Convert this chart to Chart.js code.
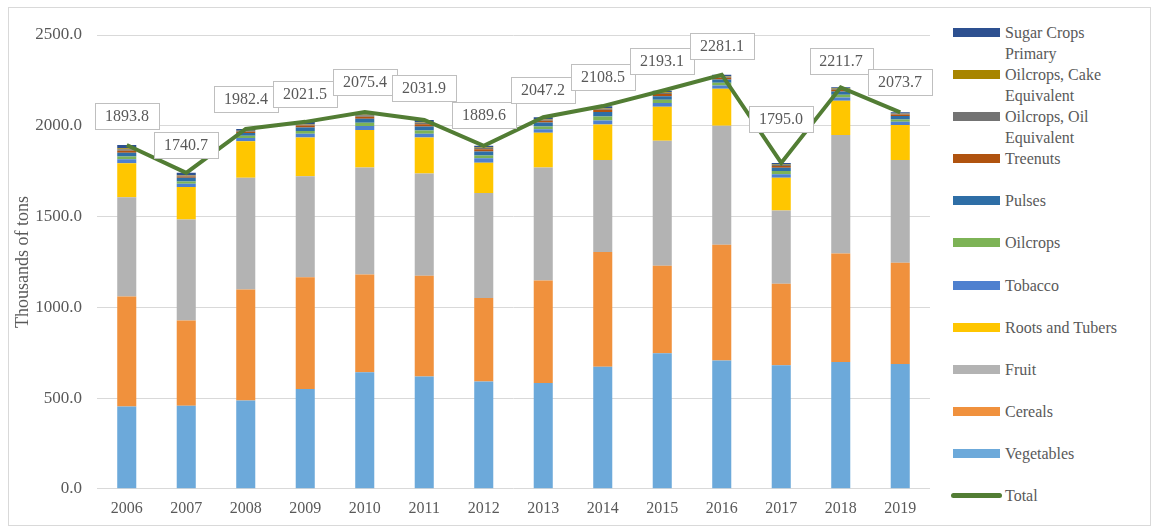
<!DOCTYPE html>
<html><head><meta charset="utf-8">
<script src="https://cdn.jsdelivr.net/npm/chart.js@4"></script>
<style>
body{margin:0;background:#fff;width:1155px;height:530px;overflow:hidden;position:relative;}
#frame{position:absolute;left:8px;top:7px;width:1143px;height:519px;border:1px solid #d9d9d9;box-sizing:border-box;}
#wrap{position:absolute;left:0;top:0;width:945px;height:530px;}
#legend{position:absolute;left:953px;top:22px;font-family:"Liberation Serif",serif;font-size:16px;color:#595959;}
.item{position:relative;height:42.1px;width:200px;}
.sw{position:absolute;left:0;top:6px;width:47px;height:9px;}
.tx{position:absolute;left:52px;top:0;line-height:21px;white-space:pre;}
</style>
</head><body>
<div id="frame"></div>
<div id="wrap"><canvas id="c"></canvas></div>
<div id="legend"></div>
<script>
const years = ['2006','2007','2008','2009','2010','2011','2012','2013','2014','2015','2016','2017','2018','2019'];
const vegetables = [453,458,486,550,642,618,591,583,673,747,707,681,699,688];
const cereals    = [607,469,612,615,539,556,460,565,631,482,638,449,597,558];
const fruit      = [546,556,615,557,589,563,579,622,507,688,655,403,653,565];
const roots      = [188,180,202,214,206,199,166,191,196,188,204,180,189,193];
const tobacco    = [22,18,18,20,22,20,25,20,22,20,18,20,18,18];
const oilcrops   = [15,12,12,15,18,18,15,15,22,18,15,18,15,12];
const pulses     = [20,20,15,20,22,22,22,22,25,20,18,18,18,20];
const treenuts   = [12,8,7,10,12,12,12,10,12,12,10,10,9,8];
const oilEquiv   = [8,5,4,6,8,8,7,6,6,6,5,5,5,4];
const cakeEquiv  = [5,3,2,3,4,4,3,3,3,3,3,3,2,2];
const sugarCrops = [18,12,9,11,13,12,10,10,11,9,8,8,7,6];
const total      = [1893.8,1740.7,1982.4,2021.5,2075.4,2031.9,1889.6,2047.2,2108.5,2193.1,2281.1,1795.0,2211.7,2073.7];
const yTicks = [0,500,1000,1500,2000,2500];

const barSeries = [
  {label:'Vegetables', data:vegetables, color:'#6CA9DA', legend:'Vegetables'},
  {label:'Cereals', data:cereals, color:'#F0913D', legend:'Cereals'},
  {label:'Fruit', data:fruit, color:'#B3B3B3', legend:'Fruit'},
  {label:'Roots and Tubers', data:roots, color:'#FFC600', legend:'Roots and Tubers'},
  {label:'Tobacco', data:tobacco, color:'#4E80CF', legend:'Tobacco'},
  {label:'Oilcrops', data:oilcrops, color:'#7DB356', legend:'Oilcrops'},
  {label:'Pulses', data:pulses, color:'#2E6EA6', legend:'Pulses'},
  {label:'Treenuts', data:treenuts, color:'#B0530F', legend:'Treenuts'},
  {label:'Oilcrops, Oil Equivalent', data:oilEquiv, color:'#737373', legend:'Oilcrops, Oil\nEquivalent'},
  {label:'Oilcrops, Cake Equivalent', data:cakeEquiv, color:'#A88500', legend:'Oilcrops, Cake\nEquivalent'},
  {label:'Sugar Crops Primary', data:sugarCrops, color:'#2D5090', legend:'Sugar Crops\nPrimary'}
];
const totalColor = '#527D34';

const datasets = [{
  type:'line', label:'Total', data:total, borderColor:totalColor, backgroundColor:totalColor,
  borderWidth:4, pointRadius:0, tension:0, order:0, stack:'total'
}].concat(barSeries.map(s => ({
  type:'bar', label:s.label, data:s.data, backgroundColor:s.color, borderWidth:0,
  barPercentage:0.32, categoryPercentage:1.0, order:1, stack:'crops'
})));

const boxLabels = {
  id:'boxLabels',
  afterDatasetsDraw(chart, args, opts){
    const meta = chart.getDatasetMeta(0);
    const ctx = chart.ctx;
    ctx.save();
    ctx.font = '16px "Liberation Serif"';
    meta.data.forEach((pt,i) => {
      const txt = total[i].toFixed(1);
      const w = Math.round(ctx.measureText(txt).width + 20);
      const h = 26;
      const cx = Math.round(pt.x), cy = Math.round(pt.y - opts.offsets[i]);
      const x0 = Math.round(cx - w/2) + 0.5, y0 = Math.round(cy - h/2) + 0.5;
      ctx.fillStyle = '#fff'; ctx.fillRect(x0, y0, w, h);
      ctx.strokeStyle = '#bfbfbf'; ctx.lineWidth = 1; ctx.strokeRect(x0, y0, w, h);
      ctx.fillStyle = '#595959'; ctx.textAlign = 'center'; ctx.textBaseline = 'middle';
      ctx.fillText(txt, cx, cy + 1);
    });
    ctx.restore();
  }
};

new Chart(document.getElementById('c'), {
  data:{labels:years, datasets:datasets},
  plugins:[boxLabels],
  options:{
    responsive:true, maintainAspectRatio:false, animation:false,
    layout:{padding:{left:8, right:15, top:35, bottom:2}},
    plugins:{
      legend:{display:false}, tooltip:{enabled:false},
      boxLabels:{offsets:[29,28,30,28,30,32,31,27,29,30,29,44,26,30]}
    },
    scales:{
      x:{
        stacked:true,
        grid:{display:false, drawTicks:false},
        border:{display:false},
        ticks:{color:'#595959', font:{family:'Liberation Serif', size:16}, padding:10}
      },
      y:{
        stacked:true, min:0, max:2500,
        afterFit(s){ s.width = 89; },
        afterBuildTicks(s){ s.ticks = yTicks.map(v => ({value:v})); },
        grid:{color:'#d9d9d9', lineWidth:1, drawTicks:false},
        border:{display:false},
        ticks:{color:'#595959', font:{family:'Liberation Serif', size:17}, padding:15,
               callback:v => Number(v).toFixed(1)},
        title:{display:true, text:'Thousands of tons', color:'#595959',
               font:{family:'Liberation Serif', size:18}, padding:{top:4,bottom:0}}
      }
    }
  }
});

const lg = document.getElementById('legend');
barSeries.slice().reverse().forEach(s => {
  const d = document.createElement('div'); d.className='item';
  d.innerHTML = '<div class="sw" style="background:'+s.color+'"></div><div class="tx"></div>';
  d.querySelector('.tx').textContent = s.legend;
  lg.appendChild(d);
});
const t = document.createElement('div'); t.className='item';
t.innerHTML = '<div class="sw" style="background:'+totalColor+';height:5px;top:8px;border-radius:3px;left:-2px;width:51px"></div><div class="tx">Total</div>';
lg.appendChild(t);
</script>
</body></html>
